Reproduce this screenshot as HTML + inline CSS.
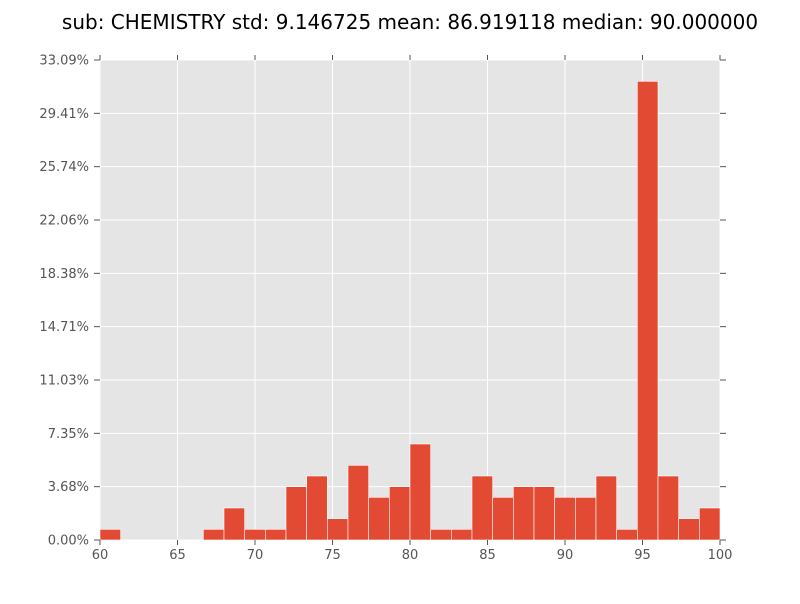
<!DOCTYPE html>
<html><head><meta charset="utf-8"><style>
body{margin:0;background:#fff;font-family:"DejaVu Sans","Liberation Sans",sans-serif}
svg text{font-family:"DejaVu Sans","Liberation Sans",sans-serif}
</style></head><body>
<svg id="chart" width="800" height="600" xmlns="http://www.w3.org/2000/svg"></svg>
<script>
const binStart = 60, binEnd = 100;
const counts = [1,0,0,0,0,1,3,1,1,5,6,2,7,4,5,9,1,1,6,4,5,5,4,4,6,1,43,6,2,3];
const total = 136;
const yTickCounts = [0,5,10,15,20,25,30,35,40,45];
const xTicks = [60,65,70,75,80,85,90,95,100];
const titleText = "sub: CHEMISTRY std: 9.146725 mean: 86.919118 median: 90.000000";

const L=100,R=720,T=60,B=540;
const yMax = 45/total;
const sx = v => L + (v-binStart)/(binEnd-binStart)*(R-L);
const sy = v => B - v/yMax*(B-T);
const svg = document.getElementById('chart');
const NS = "http://www.w3.org/2000/svg";
function mk(tag, attrs, parent){const e=document.createElementNS(NS,tag);for(const k in attrs)e.setAttribute(k,attrs[k]);(parent||svg).appendChild(e);return e;}

let bg = mk('rect',{x:L,y:T,width:R-L,height:B-T,fill:'#e5e5e5'});



xTicks.forEach(t=>{let g=mk('line',{x1:sx(t),x2:sx(t),y1:T,y2:B,stroke:'#fff','stroke-width':1});

});
yTickCounts.forEach(c=>{let y=sy(c/total);let g=mk('line',{x1:L,x2:R,y1:y,y2:y,stroke:'#fff','stroke-width':1});

});

const bw = (binEnd-binStart)/counts.length;
counts.forEach((c,i)=>{
  if(c===0) return;
  const x0=sx(binStart+i*bw), x1=sx(binStart+(i+1)*bw), y=sy(c/total);
  let r=mk('rect',{x:x0,y:y,width:x1-x0,height:B-y,fill:'#e24a33',stroke:'#fff','stroke-width':0.6});
  
  
});

xTicks.forEach(t=>{const x=sx(t);
  mk('line',{x1:x,x2:x,y1:B,y2:B+5,stroke:'#555'});
  mk('line',{x1:x,x2:x,y1:T,y2:T-5,stroke:'#555'});
  let tx=mk('text',{x:x,y:B+19,'text-anchor':'middle','font-size':13,fill:'#555'});
  tx.textContent=t;
  
  
});
yTickCounts.forEach(c=>{const v=c/total,y=sy(v);
  mk('line',{x1:L-6,x2:L,y1:y,y2:y,stroke:'#555'});
  mk('line',{x1:R,x2:R+6,y1:y,y2:y,stroke:'#555'});
  let tx=mk('text',{x:L-11,y:y+4.5,'text-anchor':'end','font-size':13,fill:'#555'});
  tx.textContent=(v*100).toFixed(2)+'%';
  
  
});

let title=mk('text',{x:410,y:29,'text-anchor':'middle','font-size':20,fill:'#000'});
title.textContent=titleText;


</script>
</body></html>
